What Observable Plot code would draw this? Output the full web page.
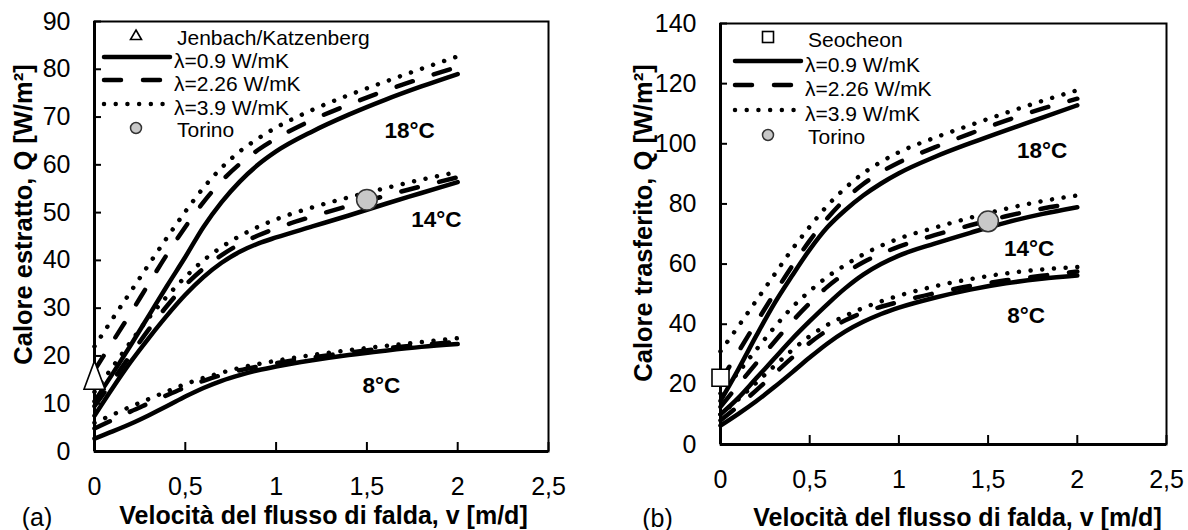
<!DOCTYPE html>
<html><head><meta charset="utf-8">
<script src="https://cdn.jsdelivr.net/npm/d3@7"></script>
<script src="https://cdn.jsdelivr.net/npm/@observablehq/plot@0.6"></script>
<style>
body{margin:0;background:#fff;}
#wrap{position:relative;width:1188px;height:530px;overflow:hidden;background:#fff;font-family:"Liberation Sans",Arial,sans-serif;}
#wrap > svg{position:absolute;top:0;}
</style></head><body><div id="wrap"></div>
<script>
// ---------- data ----------
const V = [0, 0.1, 0.2, 0.3, 0.4, 0.5, 0.6, 0.7, 0.8, 0.9, 1.0, 1.2, 1.4, 1.6, 1.8, 2.0];
const lambdas = ["0.9", "2.26", "3.9"];
const xTicks = [0, 0.5, 1, 1.5, 2, 2.5];
const aYTicks = [0, 10, 20, 30, 40, 50, 60, 70, 80, 90];
const bYTicks = [0, 20, 40, 60, 80, 100, 120, 140];

// panel (a): Calore estratto
const a18_09  = [10.5, 16.3, 22.3, 28.5, 34.7, 40.7, 47, 52.2, 56.5, 60, 62.8, 67, 70.5, 73.6, 76.4, 79];
const a18_226 = [17, 23, 29, 35.2, 41.3, 47, 52.2, 56.6, 60.2, 63.1, 65.5, 69.4, 72.6, 75.5, 78.1, 80.5];
const a18_39  = [22, 27.8, 33.5, 39.2, 44.8, 50.2, 55.2, 59.4, 62.8, 65.5, 67.8, 71.5, 74.6, 77.4, 80.1, 82.7];
const a14_09  = [7.5, 13.3, 18.8, 23.8, 28.5, 32.8, 36.5, 39.5, 41.8, 43.5, 44.8, 47.1, 49.4, 51.8, 54.1, 56.4];
const a14_226 = [9.5, 14.8, 20.3, 25.6, 30.5, 34.8, 38.3, 41.1, 43.4, 45.2, 46.7, 49.2, 51.4, 53.5, 55.5, 57.4];
const a14_39  = [12.5, 17.7, 23, 28, 32.5, 36.5, 40, 42.8, 45.1, 47, 48.6, 51.1, 53.2, 55.1, 56.9, 58.5];
const a8_09   = [2.7, 4.2, 5.8, 7.6, 9.5, 11.5, 13.3, 14.8, 16, 17, 17.8, 19.1, 20.2, 21.1, 21.9, 22.5];
const a8_226  = [4.8, 6.6, 8.4, 10.1, 11.8, 13.4, 14.8, 16, 17, 17.8, 18.5, 19.7, 20.7, 21.6, 22.3, 23.0];
const a8_39   = [6, 7.7, 9.4, 11, 12.6, 14.1, 15.4, 16.5, 17.5, 18.3, 19, 20.2, 21.2, 22.1, 22.9, 23.7];
const aSite = {name: "Jenbach/Katzenberg", v: 0, q: 16};
const aTorino = {v: 1.5, q: 52.7};
const aTemps = [{t: "18°C", v: 1.735, q: 67.2}, {t: "14°C", v: 1.883, q: 48.4}, {t: "8°C", v: 1.58, q: 13.8}];

// panel (b): Calore trasferito
const b18_09  = [14.5, 25, 36.1, 46.7, 56, 64.8, 72.3, 78, 82.8, 86.8, 90.2, 95.6, 100.2, 104.5, 108.6, 112.8];
const b18_226 = [21, 30.8, 40.5, 50, 59.2, 67.8, 75.3, 81.6, 86.6, 90.6, 93.8, 98.8, 103.4, 107.7, 111.6, 115];
const b18_39  = [31, 39.3, 47.8, 56.3, 64.8, 72.4, 79.5, 85.3, 90.2, 94, 97.2, 102, 106.2, 110.3, 114.2, 117.8];
const b14_09  = [10, 15.5, 22, 28.5, 35, 41, 46.7, 52, 56.5, 60, 62.8, 66.8, 70.4, 73.8, 76.6, 78.9];
const b14_226 = [12.5, 19.8, 27, 34, 40.8, 47, 52.5, 57, 60.6, 63.4, 65.8, 69.6, 72.9, 75.9, 78.4, 80.3];
const b14_39  = [17, 24, 31.5, 38.8, 45.5, 51, 55.8, 59.7, 63.2, 66.1, 68.5, 72.1, 75.4, 78.4, 80.9, 82.8];
const b8_09   = [6.3, 10.2, 14.4, 19, 23.9, 28.9, 33.6, 37.6, 40.8, 43.4, 45.5, 48.8, 51.5, 53.6, 55.1, 56.2];
const b8_226  = [8, 12.8, 18, 23.4, 28.8, 33.8, 38, 41.3, 43.9, 45.8, 47.4, 50.3, 52.7, 54.6, 56.1, 57.5];
const b8_39   = [10, 15, 20.5, 26, 31.3, 36, 39.8, 42.8, 45.4, 47.6, 49.5, 52.6, 55, 56.9, 58.2, 59];
const bSite = {name: "Seocheon", v: 0, q: 22.2};
const bTorino = {v: 1.5, q: 74.2};
const bTemps = [{t: "18°C", v: 1.803, q: 97.8}, {t: "14°C", v: 1.73, q: 65.2}, {t: "8°C", v: 1.713, q: 42.9}];

// ---------- helpers ----------
const FONT = "Liberation Sans, Arial, sans-serif";
const DASH = {"0.9": null, "2.26": "17 22", "3.9": "0.01 11.7"};
const LW = 4.5;

function rows(sets) {
  return sets.flatMap(s => V.map((v, i) => ({v, q: s.q[i], temp: s.temp, lam: s.lam, key: s.temp + "/" + s.lam})));
}
const triSymbol = {draw(ctx, size) { const r = Math.sqrt(size / Math.PI); ctx.moveTo(0, -1.35 * r); ctx.lineTo(r, 1.35 * r); ctx.lineTo(-r, 1.35 * r); ctx.closePath(); }};

function panel(o) {
  const fw = o.W - o.ml - o.mr, fh = o.H - o.mt - o.mb;
  const lineMarks = ["3.9", "2.26", "0.9"].map(l => Plot.line(o.data.filter(d => d.lam === l), {
    x: "v", y: "q", z: "key", curve: "monotone-x", stroke: "black", strokeWidth: LW,
    strokeLinecap: "round", strokeLinejoin: "round", strokeDasharray: DASH[l]
  }));
  const txt = {fill: "black", fontFamily: FONT, lineAnchor: "middle", textAnchor: "middle"};
  return Plot.plot({
    width: o.W, height: o.H, marginLeft: o.ml, marginRight: o.mr, marginTop: o.mt, marginBottom: o.mb,
    style: {fontFamily: FONT, background: "transparent", color: "black", overflow: "visible"},
    x: {domain: [0, 2.5]},
    y: {domain: [0, o.yMax]},
    marks: [
      Plot.axisX(xTicks, {tickSize: 0, tickPadding: 26, fontSize: 25, label: null, tickFormat: d => String(d).replace(".", ",")}),
      Plot.axisY(o.yTicks, {tickSize: 0, tickPadding: 24, fontSize: 25, label: null}),
      Plot.frame({stroke: "black", strokeWidth: 2}),
      Plot.ruleX([0], {stroke: "black", strokeWidth: 3}),
      Plot.ruleY([0], {stroke: "black", strokeWidth: 3}),
      Plot.ruleX(xTicks, {stroke: "black", strokeWidth: 2, insetTop: fh - 9}),
      Plot.ruleY(o.yTicks, {stroke: "black", strokeWidth: 2, insetRight: fw - 7}),
      ...lineMarks,
      Plot.dot([o.site], {x: "v", y: "q", symbol: o.symbol, r: o.symR, fill: "white", stroke: "black", strokeWidth: 1.6}),
      Plot.dot([o.torino], {x: "v", y: "q", r: 10.3, fill: "#c8c8c8", stroke: "#333", strokeWidth: 1.5}),
      Plot.text(o.temps, {x: "v", y: "q", text: "t", fontWeight: "bold", fontSize: 22.5, ...txt}),
      Plot.text([o.xTitle], {frameAnchor: "bottom", text: d => d, dx: o.xdx, dy: o.xdy, fontWeight: "bold", fontSize: 25, ...txt}),
      Plot.text([o.yTitle], {frameAnchor: "left", text: d => d, rotate: -90, dx: o.ydx, dy: o.ydy, fontWeight: "bold", fontSize: 25.5, ...txt}),
      Plot.text([o.tag], {frameAnchor: "bottom-left", text: d => d, dx: o.tdx, dy: o.tdy, fontSize: 25, ...txt})
    ]
  });
}

const wrap = document.getElementById("wrap");

const dataA = rows([
  {temp: 18, lam: "0.9", q: a18_09}, {temp: 18, lam: "2.26", q: a18_226}, {temp: 18, lam: "3.9", q: a18_39},
  {temp: 14, lam: "0.9", q: a14_09}, {temp: 14, lam: "2.26", q: a14_226}, {temp: 14, lam: "3.9", q: a14_39},
  {temp: 8, lam: "0.9", q: a8_09}, {temp: 8, lam: "2.26", q: a8_226}, {temp: 8, lam: "3.9", q: a8_39}
]);
const dataB = rows([
  {temp: 18, lam: "0.9", q: b18_09}, {temp: 18, lam: "2.26", q: b18_226}, {temp: 18, lam: "3.9", q: b18_39},
  {temp: 14, lam: "0.9", q: b14_09}, {temp: 14, lam: "2.26", q: b14_226}, {temp: 14, lam: "3.9", q: b14_39},
  {temp: 8, lam: "0.9", q: b8_09}, {temp: 8, lam: "2.26", q: b8_226}, {temp: 8, lam: "3.9", q: b8_39}
]);

const pA = panel({
  data: dataA, W: 590, H: 530, ml: 94, mr: 42, mt: 21, mb: 79, yMax: 90, yTicks: aYTicks,
  site: aSite, symbol: triSymbol, symR: 10.5, torino: aTorino, temps: aTemps,
  xTitle: "Velocità del flusso di falda, v [m/d]", xdx: 2, xdy: 64,
  yTitle: "Calore estratto, Q [W/m²]", ydx: -71, ydy: -22,
  tag: "(a)", tdx: -57.5, tdy: 66
});
pA.style.left = "0px";
wrap.appendChild(pA);

const pB = panel({
  data: dataB, W: 598, H: 530, ml: 130, mr: 22, mt: 23, mb: 86, yMax: 140, yTicks: bYTicks,
  site: bSite, symbol: "square", symR: 9.6, torino: bTorino, temps: bTemps,
  xTitle: "Velocità del flusso di falda, v [m/d]", xdx: 14, xdy: 73,
  yTitle: "Calore trasferito, Q [W/m²]", ydx: -77, ydy: -11,
  tag: "(b)", tdx: -63, tdy: 74
});
pB.style.left = "590px";
wrap.appendChild(pB);

// ---------- legends ----------
const leg = d3.select(wrap).append("svg").attr("width", 1188).attr("height", 530)
  .style("left", "0px").style("pointer-events", "none");
function legend(L, siteName, siteShape) {
  const g = leg.append("g").attr("font-family", FONT).attr("font-size", 21).attr("fill", "black");
  const rowsY = L.rows;
  if (siteShape === "tri") {
    g.append("path").attr("d", `M${L.mx},${rowsY[0] - 5} L${L.mx + 5.5},${rowsY[0] + 4.5} L${L.mx - 5.5},${rowsY[0] + 4.5} Z`)
      .attr("fill", "white").attr("stroke", "black").attr("stroke-width", 1.6);
  } else {
    g.append("rect").attr("x", L.mx - 5.5).attr("y", rowsY[0] - 5.5).attr("width", 11).attr("height", 11)
      .attr("fill", "white").attr("stroke", "black").attr("stroke-width", 1.6);
  }
  g.append("text").attr("x", L.tm).attr("y", rowsY[0] + 2).attr("dominant-baseline", "central").text(siteName);
  lambdas.forEach((l, i) => {
    const y = rowsY[i + 1];
    g.append("line").attr("x1", L.x0).attr("x2", L.x1).attr("y1", y).attr("y2", y)
      .attr("stroke", "black").attr("stroke-width", LW).attr("stroke-linecap", "round")
      .attr("stroke-dasharray", DASH[l]);
    g.append("text").attr("x", L.tl).attr("y", y + 3).attr("dominant-baseline", "central").text(`λ=${l} W/mK`);
  });
  g.append("circle").attr("cx", L.mx).attr("cy", rowsY[4]).attr("r", 5.5)
    .attr("fill", "#c8c8c8").attr("stroke", "#333").attr("stroke-width", 1.5);
  g.append("text").attr("x", L.tm).attr("y", rowsY[4] + 1.5).attr("dominant-baseline", "central").text("Torino");
}
legend({x0: 104, x1: 170, mx: 136, tm: 177, tl: 174, rows: [35, 57, 80, 104, 128]}, aSite.name, "tri");
legend({x0: 735, x1: 801, mx: 768, tm: 808, tl: 805, rows: [37, 61, 85, 110, 135]}, bSite.name, "sq");
</script></body></html>
